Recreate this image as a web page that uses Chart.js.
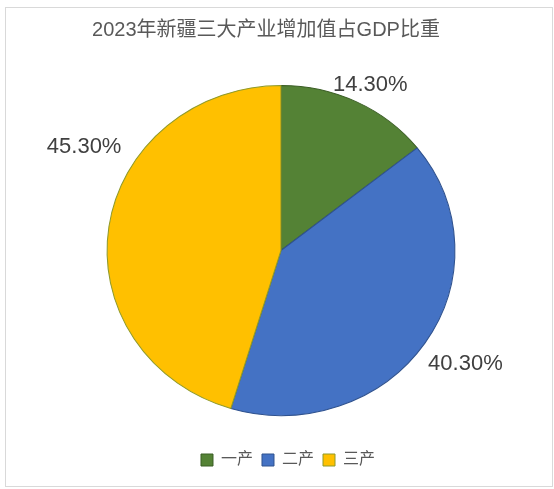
<!DOCTYPE html>
<html>
<head>
<meta charset="utf-8">
<script src="https://cdn.jsdelivr.net/npm/chart.js@4.4.1/dist/chart.umd.min.js"></script>
<style>
  html, body { margin: 0; padding: 0; background: #ffffff; }
  #wrap { position: relative; width: 554px; height: 489px; }
  #frame { position: absolute; left: 5px; top: 7px; width: 546px; height: 478px; border: 1px solid #d9d9d9; }
  #c { position: absolute; left: 0; top: 0; }
</style>
</head>
<body>
<div id="wrap">
  <div id="frame"></div>
  <canvas id="c" width="554" height="489"></canvas>
</div>
<script>
const titleText = '2023年新疆三大产业增加值占GDP比重';
const categories = ['一产', '二产', '三产'];
const shares = [14.3, 40.3, 45.3];
const valueLabels = ['14.30%', '40.30%', '45.30%'];

const fillColors = ['#548235', '#4472C4', '#FFC000'];
const edgeColors = ['#3b5e25', '#2f528f', '#8f9a2a'];
const FONT = "'Liberation Sans', 'Noto Sans CJK SC', Arial, sans-serif";
const SCALE_X = 1.054;

const layoutShift = {
  id: 'layoutShift',
  afterLayout(chart) {
    if (chart.titleBlock) { chart.titleBlock.left -= 15; chart.titleBlock.right -= 15; }
    if (chart.legend) { chart.legend.left += 7; chart.legend.right += 7; }
  }
};

const ellipse = {
  id: 'ellipse',
  beforeDatasetsDraw(chart) {
    const arc = chart.getDatasetMeta(0).data[0];
    const ctx = chart.ctx;
    ctx.save();
    ctx.translate(arc.x, arc.y);
    ctx.scale(SCALE_X, 1);
    ctx.translate(-arc.x, -arc.y);
  },
  afterDatasetsDraw(chart) {
    chart.ctx.restore();
  }
};

const outsideLabels = {
  id: 'outsideLabels',
  afterDatasetsDraw(chart, args, opts) {
    const ctx = chart.ctx;
    const meta = chart.getDatasetMeta(0);
    const size = opts.size;
    ctx.save();
    ctx.font = size + 'px ' + FONT;
    ctx.fillStyle = opts.color;
    ctx.textAlign = 'center';
    ctx.textBaseline = 'alphabetic';
    const cap = size * 0.716;
    meta.data.forEach((arc, i) => {
      const mid = (arc.startAngle + arc.endAngle) / 2;
      const ux = Math.cos(mid), uy = Math.sin(mid);
      const rx = arc.outerRadius * SCALE_X + opts.gap;
      const ry = arc.outerRadius + opts.gap;
      const w = ctx.measureText(valueLabels[i]).width;
      const nudge = opts.nudge[i];
      const cx = arc.x + rx * ux + (w / 2) * ux + nudge[0];
      const cy = arc.y + ry * uy + (cap / 2) * uy + nudge[1];
      ctx.fillText(valueLabels[i], cx, cy + cap / 2);
    });
    ctx.restore();
  }
};

new Chart(document.getElementById('c'), {
  type: 'pie',
  data: {
    labels: categories,
    datasets: [{
      data: shares,
      backgroundColor: fillColors,
      borderColor: edgeColors,
      borderWidth: 1
    }]
  },
  options: {
    responsive: false,
    devicePixelRatio: 1,
    animation: false,
    radius: 165,
    layout: { padding: { left: 8, right: 0, top: 0, bottom: 11 } },
    plugins: {
      title: {
        display: true,
        text: titleText,
        color: '#595959',
        font: { family: FONT, size: 20, weight: 'normal', lineHeight: 1.2 },
        padding: { top: 18, bottom: 16 }
      },
      legend: {
        position: 'bottom',
        labels: {
          color: '#595959',
          font: { family: FONT, size: 16 },
          boxWidth: 12,
          boxHeight: 12,
          padding: 9
        }
      },
      tooltip: { enabled: false },
      outsideLabels: { size: 22, color: '#404040', gap: 8, nudge: [[-6, -4], [3, 10], [20, -79]] }
    }
  },
  plugins: [layoutShift, ellipse, outsideLabels]
});
</script>
</body>
</html>
